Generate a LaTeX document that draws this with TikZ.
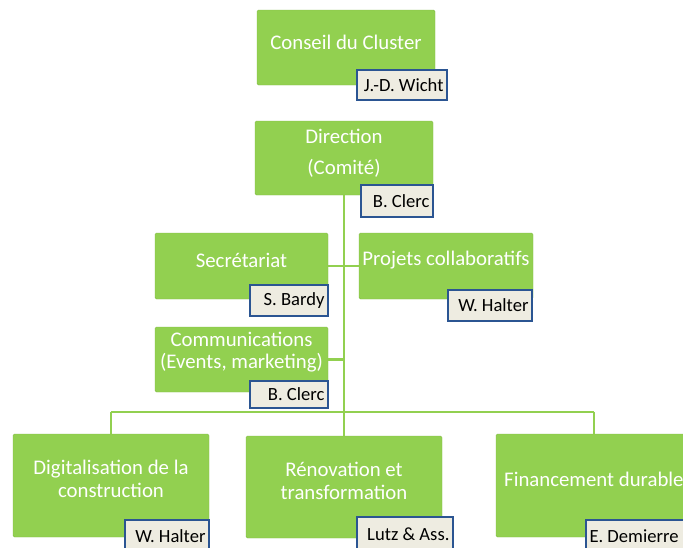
\documentclass[tikz,border=0pt]{standalone}
\usepackage{fontspec}
\setmainfont{Carlito}
\frenchspacing
\definecolor{boxgreen}{HTML}{92D050}
\definecolor{tagfill}{HTML}{EEECE1}
\definecolor{tagborder}{HTML}{2B5592}
\tikzset{
  gbox/.style={rectangle, fill=boxgreen, draw=boxgreen!90!black, line width=0.4pt, rounded corners=1.5pt, inner sep=0pt},
  gtext/.style={text=white, font=\fontsize{20.8}{23}\selectfont, align=center, inner sep=0pt},
  tagbox/.style={rectangle, fill=tagfill, draw=tagborder, line width=2pt, inner xsep=3.5pt, inner ysep=0pt, align=flush right, font=\fontsize{18.6}{21}\selectfont\frenchspacing, text=black},
  link/.style={draw=boxgreen, line width=2.4pt}
}
\begin{document}
\begin{tikzpicture}[x=1pt,y=-1pt]
\useasboundingbox (0,0) rectangle (683,547);
\clip (0,0) rectangle (683,547);
\coordinate (busL) at (111,412);
\coordinate (busM) at (344,412);
\coordinate (busR) at (594,412);
% boxes
\node[gbox, minimum width=178pt, minimum height=75pt] (conseil) at (346,47.5) {};
\node[gbox, minimum width=178pt, minimum height=74pt] (direction) at (344,158) {};
\node[gbox, minimum width=173pt, minimum height=66pt] (secr) at (241.5,266) {};
\node[gbox, minimum width=174pt, minimum height=66pt] (projets) at (446,266) {};
\node[gbox, minimum width=173pt, minimum height=65pt] (comm) at (241.5,359.5) {};
\node[gbox, minimum width=196pt, minimum height=103pt] (digit) at (111,485.5) {};
\node[gbox, minimum width=196pt, minimum height=102pt] (renov) at (344,487) {};
\node[gbox, minimum width=196pt, minimum height=103pt] (finan) at (594,485.5) {};
% links
\draw[link] (direction.south) -- (busM);
\draw[link] (secr.east) -- (projets.west);
\draw[link] (comm.east) -- (comm.east -| busM);
\draw[link] (busL) -- (busR);
\draw[link] (busL) -- (digit.north);
\draw[link] (busM) -- (renov.north);
\draw[link] (busR) -- (finan.north);
% texts in boxes
\node[gtext] (tconseil) at (346,42) {Conseil du Cluster};
\node[gtext] (tdir1) at (344,136) {Direction};
\node[gtext] (tdir2) at (344,168) {(Comité)};
\node[gtext] (tsecr) at (241.5,260) {Secrétariat};
\node[gtext] (tproj) at (446,260) {Projets collaboratifs};
\node[gtext] (tcomm) at (241.5,352) {Communications\\[-1pt](Events, marketing)};
\node[gtext] (tdigit) at (111,479) {Digitalisation de la\\[0pt]construction};
\node[gtext] (trenov) at (344,481) {Rénovation et\\[0pt]transformation};
\node[gtext, anchor=west] (tfinan) at (504,479) {Financement durable};
% name tags
\node[tagbox, text width=83pt, minimum height=30pt] (wicht) at (402,85) {J.-D. Wicht};
\node[tagbox, text width=65pt, minimum height=32pt] (clerc1) at (397,201) {B. Clerc};
\node[tagbox, text width=71pt, minimum height=31pt] (bardy) at (289,300.5) {S. Bardy};
\node[tagbox, text width=77pt, minimum height=31pt] (halter1) at (490,305.5) {W. Halter};
\node[tagbox, text width=71pt, minimum height=27pt] (clerc2) at (289,394.5) {B. Clerc};
\node[tagbox, text width=77pt, minimum height=32pt] (halter2) at (167,536) {W. Halter};
\node[tagbox, text width=89pt, minimum height=34pt] (lutz) at (405,534) {Lutz \& Ass.};
\node[tagbox, text width=98pt, minimum height=32pt, align=flush left, anchor=west] (demierre) at (585,536) {E. Demierre};
\end{tikzpicture}
\end{document}
